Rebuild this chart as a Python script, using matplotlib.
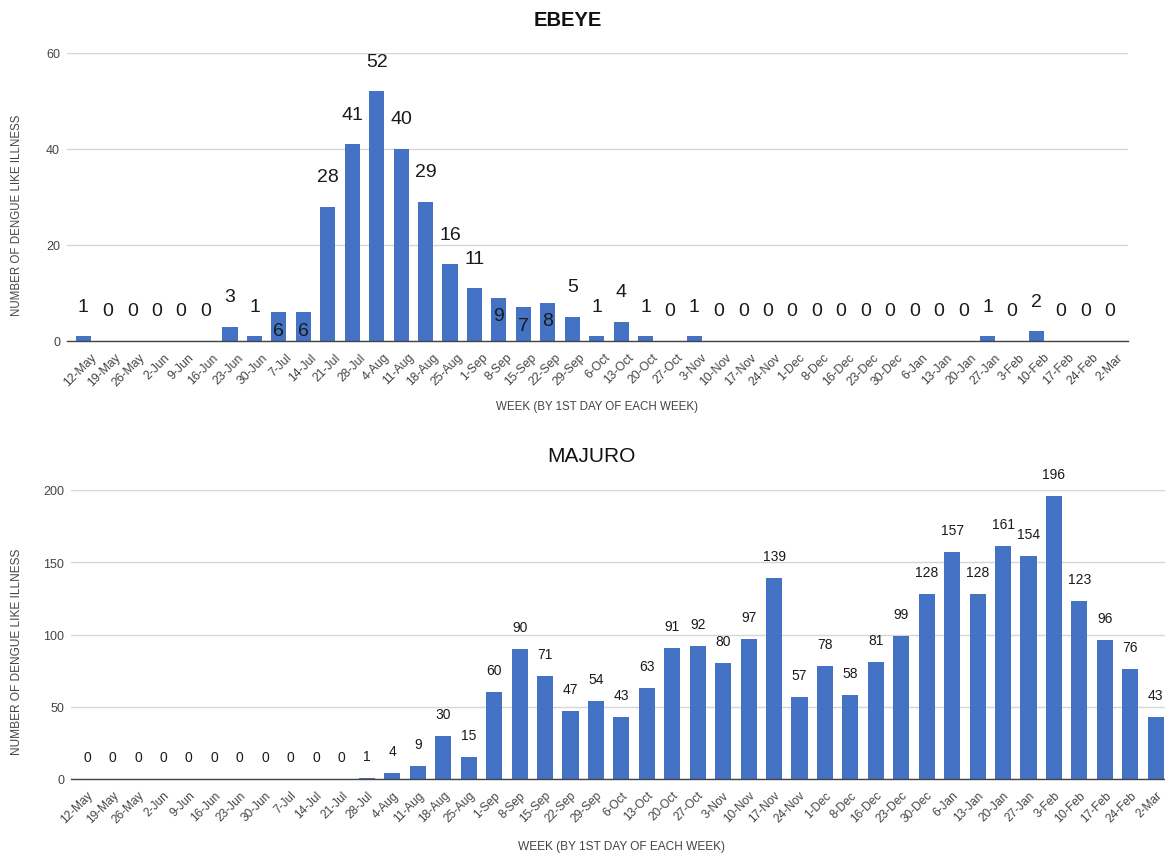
import matplotlib
matplotlib.use("Agg")
import matplotlib.pyplot as plt
from matplotlib.transforms import ScaledTranslation

plt.rcParams['font.family'] = ['Liberation Sans', 'DejaVu Sans']

weeks = ['12-May', '19-May', '26-May', '2-Jun', '9-Jun', '16-Jun', '23-Jun', '30-Jun',
         '7-Jul', '14-Jul', '21-Jul', '28-Jul', '4-Aug', '11-Aug', '18-Aug', '25-Aug',
         '1-Sep', '8-Sep', '15-Sep', '22-Sep', '29-Sep', '6-Oct', '13-Oct', '20-Oct',
         '27-Oct', '3-Nov', '10-Nov', '17-Nov', '24-Nov', '1-Dec', '8-Dec', '16-Dec',
         '23-Dec', '30-Dec', '6-Jan', '13-Jan', '20-Jan', '27-Jan', '3-Feb', '10-Feb',
         '17-Feb', '24-Feb', '2-Mar']

ebeye_cases = [1, 0, 0, 0, 0, 0, 3, 1, 6, 6, 28, 41, 52, 40, 29, 16, 11, 9, 7, 8, 5, 1, 4,
               1, 0, 1, 0, 0, 0, 0, 0, 0, 0, 0, 0, 0, 0, 1, 0, 2, 0, 0, 0]

majuro_cases = [0, 0, 0, 0, 0, 0, 0, 0, 0, 0, 0, 1, 4, 9, 30, 15, 60, 90, 71, 47, 54, 43, 63,
                91, 92, 80, 97, 139, 57, 78, 58, 81, 99, 128, 157, 128, 161, 154, 196, 123,
                96, 76, 43]

# weeks whose value label sits inside the bar top
ebeye_inside_labels = ['7-Jul', '14-Jul', '8-Sep', '15-Sep', '22-Sep']

BAR = '#4472C4'
GRID = '#d6d6d6'
BASE = '#444444'
TICK = '#444444'
TXT = '#1a1a1a'

W, H = 1165, 854
fig = plt.figure(figsize=(W / 100, H / 100), dpi=100)


def px_axes(x0, x1, ybot, ytop):
    return fig.add_axes([x0 / W, 1 - ybot / H, (x1 - x0) / W, (ybot - ytop) / H])


def style(ax, ymax, yticks, ytick_size, xtick_size, xshift_px):
    ax.set_ylim(0, ymax)
    ax.set_yticks(yticks)
    ax.grid(axis='y', color=GRID, linewidth=1.0)
    ax.set_axisbelow(True)
    for s in ['top', 'right', 'left']:
        ax.spines[s].set_visible(False)
    ax.spines['bottom'].set_color(BASE)
    ax.spines['bottom'].set_linewidth(1.0)
    ax.tick_params(axis='y', length=0, pad=5, labelsize=ytick_size, labelcolor=TICK)
    ax.tick_params(axis='x', length=0, pad=7, labelsize=xtick_size, labelcolor=TICK)
    x = range(len(weeks))
    ax.set_xticks(list(x))
    ax.set_xticklabels(weeks, rotation=45, ha='right', va='top', rotation_mode='anchor')
    shift = ScaledTranslation(xshift_px / 100, 0, fig.dpi_scale_trans)
    for lab in ax.get_xticklabels():
        lab.set_transform(lab.get_transform() + shift)


# ---- EBEYE ----
ax1 = px_axes(67, 1128, 342, 54)
ax1.bar(range(len(weeks)), ebeye_cases, width=0.62, color=BAR, zorder=2)
ax1.set_xlim(-0.67, len(weeks) - 1 + 0.74)
style(ax1, 60, [0, 20, 40, 60], 9, 8.8, 7)
for i, (wk, v) in enumerate(zip(weeks, ebeye_cases)):
    if wk in ebeye_inside_labels:
        off = -18 * 0.72
    else:
        off = 30 * 0.72
    ax1.annotate(str(v), (i, v), xytext=(0, off), textcoords='offset points',
                 ha='center', va='center', fontsize=14, color=TXT, zorder=3)
fig.text(568 / W, 1 - 21 / H, 'EBEYE', ha='center', va='center',
         fontsize=14.5, fontweight='bold', color='#111111')
fig.text(597 / W, 1 - 407 / H, 'WEEK (BY 1ST DAY OF EACH WEEK)', ha='center', va='center',
         fontsize=8.3, color=TICK)
fig.text(17 / W, 1 - 215 / H, 'NUMBER OF DENGUE LIKE ILLNESS', ha='center', va='center',
         rotation=90, fontsize=8.3, color=TICK)

# ---- MAJURO ----
ax2 = px_axes(71, 1171, 780, 491)
ax2.bar(range(len(weeks)), majuro_cases, width=0.63, color=BAR, zorder=2)
ax2.set_xlim(-0.63, len(weeks) - 1 + 0.6)
style(ax2, 200, [0, 50, 100, 150, 200], 9, 8.6, 0)
for i, v in enumerate(majuro_cases):
    ax2.annotate(str(v), (i, v), xytext=(0, 22 * 0.72), textcoords='offset points',
                 ha='center', va='center', fontsize=10, color=TXT, zorder=3)
fig.text(591 / W, 1 - 457 / H, 'MAJURO', ha='center', va='center',
         fontsize=15, color='#111111')
fig.text(621 / W, 1 - 847 / H, 'WEEK (BY 1ST DAY OF EACH WEEK)', ha='center', va='center',
         fontsize=8.6, color=TICK)
fig.text(17 / W, 1 - 652 / H, 'NUMBER OF DENGUE LIKE ILLNESS', ha='center', va='center',
         rotation=90, fontsize=8.6, color=TICK)

fig.savefig('out.png', dpi=100)
